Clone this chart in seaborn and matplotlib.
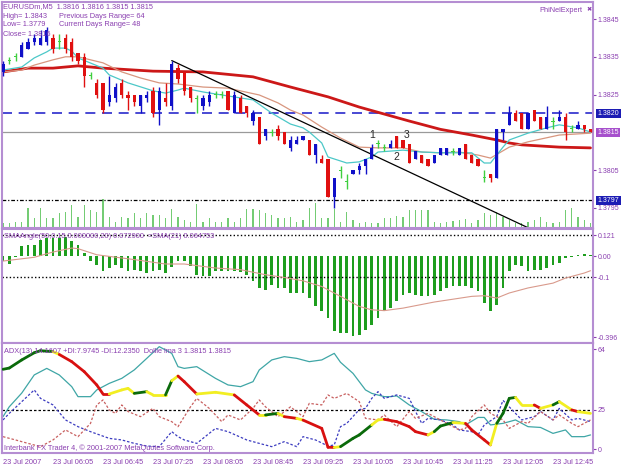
import matplotlib
matplotlib.use('Agg')
import numpy as np
import matplotlib.pyplot as plt
import matplotlib.transforms as mtransforms
from matplotlib.collections import LineCollection
import seaborn as sns

sns.set_style('white')
plt.rcParams['font.family'] = ['Liberation Sans', 'DejaVu Sans']

# ---- EURUSDm M5 candles (05:25 .. 13:15) ----
open_ = [1.3831, 1.3834, 1.3835, 1.3835, 1.3837, 1.3839, 1.3838, 1.3839, 1.3840, 1.3839,
         1.3840, 1.3839, 1.3836, 1.3835, 1.3830, 1.3828, 1.3828, 1.3823, 1.3824, 1.3828,
         1.3825, 1.3825, 1.3822, 1.3824, 1.3826, 1.3821, 1.3824, 1.3822, 1.3832, 1.3831,
         1.3827, 1.3824, 1.3822, 1.3823, 1.3825, 1.3825, 1.3826, 1.3820, 1.3824, 1.3822,
         1.3818, 1.3819, 1.3814, 1.3815, 1.3816, 1.3815, 1.3811, 1.3812, 1.3813, 1.3813,
         1.3809, 1.3808, 1.3808, 1.3798, 1.3805, 1.3802, 1.3804, 1.3805, 1.3806, 1.3808,
         1.3812, 1.3811, 1.3811, 1.3814, 1.3813, 1.3812, 1.3808, 1.3809, 1.3808, 1.3807,
         1.3809, 1.3809, 1.3810, 1.3809, 1.3812, 1.3809, 1.3808, 1.3803, 1.3804, 1.3803,
         1.3815, 1.3817, 1.3820, 1.3820, 1.3816, 1.3821, 1.3819, 1.3816, 1.3818, 1.3818,
         1.3819, 1.3816, 1.3816, 1.3817, 1.3816]
high = [1.3834, 1.3835, 1.3836, 1.3839, 1.3840, 1.3841, 1.3842, 1.3843, 1.3841, 1.3841,
        1.3841, 1.3840, 1.3836, 1.3836, 1.3831, 1.3829, 1.3828, 1.3830, 1.3828, 1.3829,
        1.3826, 1.3825, 1.3825, 1.3826, 1.3827, 1.3827, 1.3828, 1.3834, 1.3833, 1.3831,
        1.3827, 1.3825, 1.3825, 1.3826, 1.3826, 1.3826, 1.3826, 1.3826, 1.3825, 1.3822,
        1.3821, 1.3819, 1.3816, 1.3816, 1.3817, 1.3815, 1.3814, 1.3814, 1.3814, 1.3813,
        1.3812, 1.3809, 1.3808, 1.3803, 1.3806, 1.3804, 1.3805, 1.3807, 1.3808, 1.3812,
        1.3813, 1.3812, 1.3813, 1.3814, 1.3813, 1.3812, 1.3810, 1.3809, 1.3808, 1.3809,
        1.3811, 1.3811, 1.3811, 1.3811, 1.3812, 1.3809, 1.3808, 1.3805, 1.3804, 1.3816,
        1.3816, 1.3822, 1.3821, 1.3820, 1.3820, 1.3821, 1.3819, 1.3822, 1.3819, 1.3821,
        1.3820, 1.3817, 1.3818, 1.3817, 1.3816]
low = [1.3830, 1.3833, 1.3834, 1.3835, 1.3837, 1.3838, 1.3838, 1.3838, 1.3836, 1.3837,
       1.3836, 1.3834, 1.3833, 1.3827, 1.3829, 1.3824, 1.3820, 1.3822, 1.3823, 1.3824,
       1.3821, 1.3822, 1.3820, 1.3823, 1.3819, 1.3817, 1.3822, 1.3821, 1.3828, 1.3825,
       1.3823, 1.3820, 1.3821, 1.3822, 1.3824, 1.3824, 1.3821, 1.3820, 1.3820, 1.3819,
       1.3817, 1.3812, 1.3813, 1.3814, 1.3813, 1.3812, 1.3810, 1.3812, 1.3813, 1.3809,
       1.3807, 1.3807, 1.3798, 1.3795, 1.3803, 1.3800, 1.3804, 1.3804, 1.3804, 1.3808,
       1.3811, 1.3810, 1.3811, 1.3811, 1.3811, 1.3807, 1.3808, 1.3807, 1.3806, 1.3807,
       1.3809, 1.3809, 1.3809, 1.3809, 1.3808, 1.3807, 1.3806, 1.3802, 1.3802, 1.3803,
       1.3813, 1.3817, 1.3818, 1.3816, 1.3816, 1.3818, 1.3816, 1.3816, 1.3816, 1.3818,
       1.3813, 1.3815, 1.3816, 1.3815, 1.3815]
close_ = [1.3833, 1.3834, 1.3835, 1.3838, 1.3839, 1.3840, 1.3840, 1.3842, 1.3837, 1.3839,
          1.3837, 1.3835, 1.3834, 1.3830, 1.3830, 1.3825, 1.3821, 1.3825, 1.3827, 1.3825,
          1.3824, 1.3823, 1.3825, 1.3825, 1.3820, 1.3826, 1.3823, 1.3833, 1.3829, 1.3826,
          1.3824, 1.3824, 1.3824, 1.3825, 1.3825, 1.3825, 1.3821, 1.3825, 1.3820, 1.3820,
          1.3820, 1.3812, 1.3816, 1.3815, 1.3814, 1.3812, 1.3813, 1.3813, 1.3814, 1.3809,
          1.3812, 1.3807, 1.3798, 1.3803, 1.3805, 1.3802, 1.3805, 1.3806, 1.3808, 1.3811,
          1.3812, 1.3811, 1.3812, 1.3811, 1.3811, 1.3807, 1.3810, 1.3807, 1.3806, 1.3809,
          1.3811, 1.3811, 1.3810, 1.3811, 1.3808, 1.3807, 1.3806, 1.3803, 1.3803, 1.3816,
          1.3816, 1.3820, 1.3818, 1.3816, 1.3820, 1.3818, 1.3816, 1.3819, 1.3818, 1.3819,
          1.3815, 1.3816, 1.3817, 1.3816, 1.3815]
volume = [5, 5, 6, 6, 20, 10, 20, 10, 10, 15, 16, 23, 11, 23, 18, 16, 29, 11, 6, 11,
          10, 15, 10, 15, 13, 13, 10, 19, 11, 8, 6, 24, 6, 10, 6, 6, 10, 6, 10, 19,
          19, 18, 15, 13, 10, 10, 11, 6, 8, 20, 25, 10, 10, 19, 6, 16, 8, 5, 6, 5,
          5, 10, 10, 12, 11, 18, 18, 18, 18, 6, 5, 6, 7, 8, 9, 5, 8, 15, 13, 16,
          11, 8, 5, 5, 6, 8, 11, 6, 5, 6, 18, 20, 11, 8, 5]

# moving averages (bar index, price)
fast_idx = [0, 3, 5, 7, 8, 10, 11, 12, 16, 17, 20, 24, 26, 28, 29, 32, 35, 40, 43, 46, 48,
            49, 51, 52, 55, 57, 59, 60, 64, 67, 70, 75, 77, 78, 80, 81, 84, 87, 89, 92, 94]
fast_ma = [1.38315, 1.38323, 1.38347, 1.38363, 1.38373, 1.38373, 1.38365, 1.38347, 1.38320,
           1.38302, 1.38281, 1.38260, 1.38254, 1.38262, 1.38267, 1.38257, 1.38249, 1.38236,
           1.38201, 1.38172, 1.38162, 1.38151, 1.38122, 1.38085, 1.38069, 1.38072, 1.38085,
           1.38098, 1.38103, 1.38098, 1.38096, 1.38096, 1.38069, 1.38069, 1.38111, 1.38130,
           1.38148, 1.38162, 1.38170, 1.38162, 1.38151]
mid_idx = [0, 3, 5, 8, 10, 12, 16, 19, 22, 25, 28, 32, 36, 41, 44, 46, 48, 51, 54, 57, 60,
           64, 67, 70, 73, 76, 78, 81, 84, 89, 94]
mid_ma = [1.38310, 1.38315, 1.38328, 1.38342, 1.38350, 1.38350, 1.38334, 1.38310, 1.38294,
          1.38281, 1.38278, 1.38270, 1.38267, 1.38249, 1.38228, 1.38209, 1.38196, 1.38164,
          1.38135, 1.38111, 1.38109, 1.38109, 1.38098, 1.38096, 1.38098, 1.38090, 1.38082,
          1.38111, 1.38125, 1.38143, 1.38148]
slow_idx = [0, 4, 8, 12, 16, 24, 32, 40, 46, 52, 57, 65, 70, 75, 79, 81, 83, 89, 94]
slow_ma = [1.38310, 1.38320, 1.38320, 1.38326, 1.38320, 1.38312, 1.38310, 1.38297, 1.38270,
           1.38244, 1.38217, 1.38180, 1.38158, 1.38143, 1.38130, 1.38122, 1.38117, 1.38111,
           1.38109]
trend_idx = [27, 85]
trend_px = [1.3834, 1.3789]
levels = {'blue': 1.3820, 'bid': 1.3815, 'low': 1.3797}

# ---- SMAAngle window ----
angle = [-0.025, -0.038, -0.005, 0.046, 0.054, 0.054, 0.078, 0.086, 0.086, 0.086,
         0.089, 0.070, 0.054, 0.014, -0.025, -0.041, -0.070, -0.057, -0.041, -0.057,
         -0.073, -0.065, -0.073, -0.081, -0.073, -0.065, -0.081, -0.054, -0.025, -0.025,
         -0.049, -0.089, -0.097, -0.097, -0.073, -0.073, -0.073, -0.073, -0.078, -0.089,
         -0.121, -0.152, -0.160, -0.137, -0.152, -0.152, -0.176, -0.176, -0.176, -0.200,
         -0.240, -0.260, -0.295, -0.359, -0.367, -0.367, -0.383, -0.375, -0.351, -0.327,
         -0.295, -0.263, -0.248, -0.216, -0.184, -0.176, -0.184, -0.192, -0.192, -0.184,
         -0.168, -0.152, -0.144, -0.144, -0.144, -0.152, -0.168, -0.224, -0.263, -0.232,
         -0.152, -0.073, -0.041, -0.049, -0.073, -0.065, -0.065, -0.057, -0.041, -0.033,
         -0.010, -0.003, 0.006, 0.010, 0.006]
sma_idx = [0, 5, 8, 11, 12, 15, 21, 26, 29, 34, 38, 42, 45, 48, 51, 54, 57, 59, 61, 64,
           69, 75, 77, 79, 81, 84, 88, 90, 93, 94]
sma_val = [-0.024, -0.006, 0.019, 0.038, 0.035, 0.006, -0.017, -0.038, -0.038, -0.057,
           -0.065, -0.089, -0.102, -0.118, -0.145, -0.192, -0.240, -0.256, -0.260, -0.248,
           -0.219, -0.192, -0.189, -0.200, -0.176, -0.152, -0.129, -0.105, -0.081, -0.070]

# ---- ADX window ----
adx_idx = [0, 1, 3, 5, 6, 8, 9, 11, 13, 15, 16, 17, 19, 20, 21, 23, 24, 26, 27, 28,
           29, 31, 34, 37, 39, 41, 42, 44, 45, 47, 48, 51, 52, 53, 54, 56, 57, 59, 60, 61,
           63, 65, 66, 68, 69, 70, 72, 74, 75, 77, 78, 79, 80, 81, 82, 83, 85, 86, 88, 89,
           91, 92, 94]
adx_val = [51.0, 51.8, 57.0, 61.6, 62.9, 62.3, 60.5, 55.9, 49.5, 41.0, 35.2, 35.2, 37.8,
           38.8, 35.6, 36.7, 34.6, 34.6, 43.7, 46.7, 43.1, 35.2, 36.3, 34.6, 28.2, 21.8,
           21.8, 22.8, 20.7, 19.6, 18.5, 13.2, 1.1, 1.0, 1.5, 6.8, 9.0, 15.4, 18.6, 19.0,
           17.5, 14.3, 11.1, 9.0, 11.1, 14.7, 16.9, 16.4, 12.2, 5.8, 2.6, 16.4, 22.8, 32.4,
           33.0, 28.2, 28.2, 26.0, 28.2, 30.3, 25.0, 23.9, 22.8]
adx_state = ['g', 'g', 'g', 'g', 'g', 'y', 'r', 'r', 'r', 'r', 'r', 'y', 'y', 'y', 'g',
             'y', 'y', 'g', 'y', 'r', 'r', 'y', 'y', 'r', 'r', 'y', 'g', 'y', 'r', 'y',
             'r', 'r', 'r', 'y', 'g', 'g', 'g', 'y', 'y', 'r', 'r', 'r', 'r', 'y', 'g',
             'g', 'y', 'r', 'r', 'r', 'y', 'g', 'g', 'g', 'y', 'y', 'r', 'y', 'g', 'y',
             'r', 'y', 'r']
teal_idx = [0, 1, 3, 5, 7, 9, 11, 12, 14, 15, 17, 19, 21, 23, 25, 27, 28, 29, 31, 34,
            36, 38, 40, 41, 43, 45, 47, 49, 51, 53, 54, 56, 58, 59, 61, 62, 63, 65, 67, 69,
            71, 73, 74, 76, 77, 78, 80, 82, 84, 86, 88, 90, 91, 93, 94]
teal_val = [20.7, 27.0, 35.8, 47.4, 51.6, 47.4, 39.9, 33.5, 33.5, 37.8, 42.0, 45.2, 50.6,
            58.0, 65.5, 61.2, 52.7, 51.6, 52.7, 45.2, 41.0, 39.9, 43.1, 50.6, 57.0, 59.1,
            58.0, 55.9, 57.0, 61.2, 55.5, 48.4, 37.8, 35.6, 33.5, 33.5, 34.0, 28.2, 23.9,
            19.0, 18.6, 17.5, 15.4, 20.2, 20.2, 15.4, 16.4, 18.6, 14.3, 13.8, 10.0, 12.2,
            7.9, 7.9, 9.0]
pdi_idx = [0, 1, 3, 5, 6, 8, 10, 12, 14, 17, 19, 21, 23, 25, 27, 28, 29, 31, 34, 36,
           39, 41, 43, 45, 47, 48, 50, 52, 53, 54, 55, 57, 58, 59, 60, 61, 63, 65, 66, 67,
           68, 70, 72, 73, 75, 76, 77, 79, 80, 82, 83, 85, 86, 88, 89, 91, 92, 94]
pdi_val = [18.6, 22.8, 30.3, 37.8, 32.4, 28.2, 18.6, 14.3, 11.1, 6.8, 5.8, 3.6, 1.9, 1.5,
           11.1, 7.9, 5.8, 3.6, 13.2, 11.1, 5.8, 3.6, 1.5, 4.7, 1.5, 7.9, 5.8, 1.9, 2.6,
           14.3, 16.4, 25.2, 26.0, 32.4, 36.7, 32.4, 34.6, 32.4, 24.0, 16.4, 19.6, 18.6,
           15.4, 12.2, 11.1, 9.0, 15.4, 20.7, 31.1, 22.8, 18.6, 20.7, 24.0, 18.6, 26.0,
           18.6, 19.6, 17.5]
mdi_idx = [0, 2, 4, 6, 8, 10, 12, 14, 15, 16, 17, 18, 19, 20, 22, 24, 25, 27, 28, 30,
           31, 33, 35, 36, 38, 40, 41, 42, 44, 46, 48, 49, 51, 52, 53, 55, 57, 58, 60, 61,
           63, 65, 66, 68, 69, 71, 73, 74, 75, 77, 78, 80, 81, 83, 84, 86, 88, 89, 91, 92, 94]
mdi_val = [7.9, 5.8, 3.6, 1.5, 5.8, 12.2, 7.9, 16.4, 28.2, 31.4, 25.0, 22.8, 28.2, 24.0,
           20.7, 26.0, 20.7, 17.5, 14.3, 27.0, 32.4, 26.0, 17.5, 21.8, 18.6, 26.0, 31.4,
           27.0, 20.7, 27.0, 20.7, 29.2, 28.2, 34.6, 32.4, 35.6, 30.3, 19.6, 18.6, 21.8,
           14.3, 24.0, 19.6, 22.8, 20.7, 16.4, 12.2, 13.2, 20.7, 28.2, 22.8, 18.6, 13.2,
           17.5, 16.4, 24.0, 18.6, 21.8, 16.4, 14.3, 18.6]

time_ticks = [0, 8, 16, 24, 32, 40, 48, 56, 64, 72, 80, 88]
time_labels = ['23 Jul 2007', '23 Jul 06:05', '23 Jul 06:45', '23 Jul 07:25',
               '23 Jul 08:05', '23 Jul 08:45', '23 Jul 09:25', '23 Jul 10:05',
               '23 Jul 10:45', '23 Jul 11:25', '23 Jul 12:05', '23 Jul 12:45']

# ---- style ----
PURPLE = '#8a3fb0'
FRAME = '#b58ed2'
FS = 5.3
W, H = 625, 469

fig = plt.figure(figsize=(6.25, 4.69), dpi=100)
fig.patch.set_facecolor('white')


def panel(top, bottom):
    return fig.add_axes([2 / W, 1 - bottom / H, 591 / W, (bottom - top) / H])


ax1 = panel(2, 228)
ax2 = panel(229, 343)
ax3 = panel(343, 453)
xlim = (-0.16, 94.4)

# volume sits underneath the candles on its own scale
axv = ax1.twinx()
axv.bar(np.arange(len(volume)), volume, width=0.2, color='#74cc74', linewidth=0)
axv.set_ylim(0, 226)
axv.set_xlim(*xlim)
axv.axis('off')
ax1.set_zorder(axv.get_zorder() + 1)
ax1.patch.set_visible(False)

for ax in (ax1, ax2, ax3):
    ax.set_xlim(*xlim)
    for s in ax.spines.values():
        s.set_color(FRAME)
        s.set_linewidth(1.5)
    ax.yaxis.tick_right()
    ax.yaxis.set_label_position('right')
    ax.tick_params(axis='y', colors=PURPLE, labelsize=FS - 0.3, length=2, pad=1.5,
                   width=0.8, left=False, labelleft=False, right=True, labelright=True)
    ax.tick_params(axis='x', length=0)
ax1.set_xticks([])
ax2.set_xticks([])

# main window --------------------------------------------------------------
bars = np.arange(len(close_))
o, h, l, c = (np.array(a) for a in (open_, high, low, close_))
cols = np.where(c > o, '#1010c8', np.where(c < o, '#e01010', '#3fcf3f'))

ax1.axhline(levels['bid'], color='#9a9a9a', lw=0.9, zorder=1)
ax1.axhline(levels['blue'], color='#2a2acc', lw=1.2, dashes=(6, 4), zorder=1)
ax1.axhline(levels['low'], color='black', lw=0.9, dashes=(3, 1.5, 1, 1.5), zorder=1)

sns.lineplot(x=slow_idx, y=slow_ma, ax=ax1, color='#cc1818', lw=2, zorder=2)
sns.lineplot(x=mid_idx, y=mid_ma, ax=ax1, color='#d8967f', lw=0.9, zorder=2)
sns.lineplot(x=fast_idx, y=fast_ma, ax=ax1, color='#4cc8c8', lw=0.9, zorder=2)
ax1.plot(trend_idx, trend_px, color='black', lw=0.9, zorder=2)

doji = 0.000028
body_lo = np.where(c == o, o - doji / 2, np.minimum(o, c))
body_h = np.where(c == o, doji, np.abs(c - o))
ax1.vlines(bars, l, h, colors=cols, lw=1, zorder=3)
ax1.bar(bars, body_h, bottom=body_lo, width=0.55, color=cols, linewidth=0, zorder=4)

ax1.set_ylim(1.37897, 1.38495)
ax1.set_xlim(*xlim)
ax1.set_yticks([1.3845, 1.3835, 1.3825, 1.3805, 1.3795])
ax1.set_yticklabels(['1.3845', '1.3835', '1.3825', '1.3805', '1.3795'])
ax1.set_ylabel('')
ax1.set_xlabel('')

for txt, pos in [('1', (59, 1.38143)), ('2', (62.9, 1.38085)), ('3', (64.6, 1.38143))]:
    ax1.text(pos[0], pos[1], txt, fontsize=7.5, color='#2a2a2a', ha='center',
             va='center', zorder=5)

tr1 = mtransforms.blended_transform_factory(ax1.transAxes, ax1.transData)
for val, fc in [(levels['blue'], '#1c1cb4'), (levels['bid'], '#a650cc'),
                (levels['low'], '#1c1cb4')]:
    ax1.text(1.008, val, f'{val:.4f}', transform=tr1, fontsize=FS - 0.3, color='white',
             ha='left', va='center', clip_on=False,
             bbox=dict(boxstyle='square,pad=0.18', fc=fc, ec='none'))

# SMAAngle window ----------------------------------------------------------
ax2.bar(bars, angle, width=0.42, color='#1e9e1e', linewidth=0)
ax2.axhline(0.1, color='black', lw=1, dashes=(1, 1.6))
ax2.axhline(-0.1, color='black', lw=1, dashes=(1, 1.6))
sns.lineplot(x=sma_idx, y=sma_val, ax=ax2, color='#d99a8c', lw=0.8)
ax2.set_ylim(-0.414, 0.1286)
ax2.set_xlim(*xlim)
ax2.set_xticks([])
ax2.set_yticks([0.1, 0.0, -0.1, -0.386])
ax2.set_yticklabels(['0.121', '0.00', '-0.1', '-0.396'])
ax2.set_ylabel('')

# ADX window ---------------------------------------------------------------
ax3.axhline(25, color='black', lw=0.9, dashes=(2, 1.6))
sns.lineplot(x=teal_idx, y=teal_val, ax=ax3, color='#3fa6a6', lw=0.9)
sns.lineplot(x=pdi_idx, y=pdi_val, ax=ax3, color='#3c3cc0', lw=0.9)
sns.lineplot(x=mdi_idx, y=mdi_val, ax=ax3, color='#c86060', lw=0.9)
for line in ax3.get_lines()[-2:]:
    line.set_dashes((2, 1.5))
state_col = {'g': '#0a6a0a', 'y': '#f2ee22', 'r': '#d81010'}
pts = np.column_stack([adx_idx, adx_val])
segs = [pts[i:i + 2] for i in range(len(pts) - 1)]
ax3.add_collection(LineCollection(segs, colors=[state_col[s] for s in adx_state[:-1]],
                                  linewidths=2, capstyle='round', zorder=4))
ax3.set_ylim(-2.56, 67.84)
ax3.set_xlim(*xlim)
ax3.set_yticks([64, 25, 0])
ax3.set_yticklabels(['64', '25', '0'])
ax3.set_xticks(time_ticks)
ax3.set_xticklabels(time_labels, fontsize=FS, color=PURPLE, ha='left')
ax3.tick_params(axis='x', length=2, pad=2, colors=PURPLE)
ax3.set_ylabel('')
ax3.set_xlabel('')


# texts --------------------------------------------------------------------
def ftext(x, y, s, **kw):
    kw.setdefault('fontsize', FS)
    kw.setdefault('color', PURPLE)
    fig.text(x / W, 1 - y / H, s, va='center', **kw)


ftext(3, 7, 'EURUSDm,M5  1.3816 1.3816 1.3815 1.3815')
ftext(3, 16, 'High= 1.3843')
ftext(59, 16, 'Previous Days Range= 64')
ftext(3, 25, 'Low= 1.3779')
ftext(59, 25, 'Current Days Range= 48')
ftext(3, 34, 'Close= 1.3816')
ftext(582, 10, 'PhiNelExpert', ha='right')
ftext(586, 10, '\u2716', fontsize=4.5)
ftext(4, 236, 'SMAAngle(50,0.15,0.000000,20) 0.072900  =SMA(21) 0.064753')
ftext(4, 351, 'ADX(13) 14.1607 +DI:7.9745 -DI:12.2350  Dollie lma 3 1.3815 1.3815')
ftext(4, 448, 'Interbank FX Trader 4, \u00a9 2001-2007 MetaQuotes Software Corp.')

fig.savefig('out.png', dpi=100, facecolor='white')
